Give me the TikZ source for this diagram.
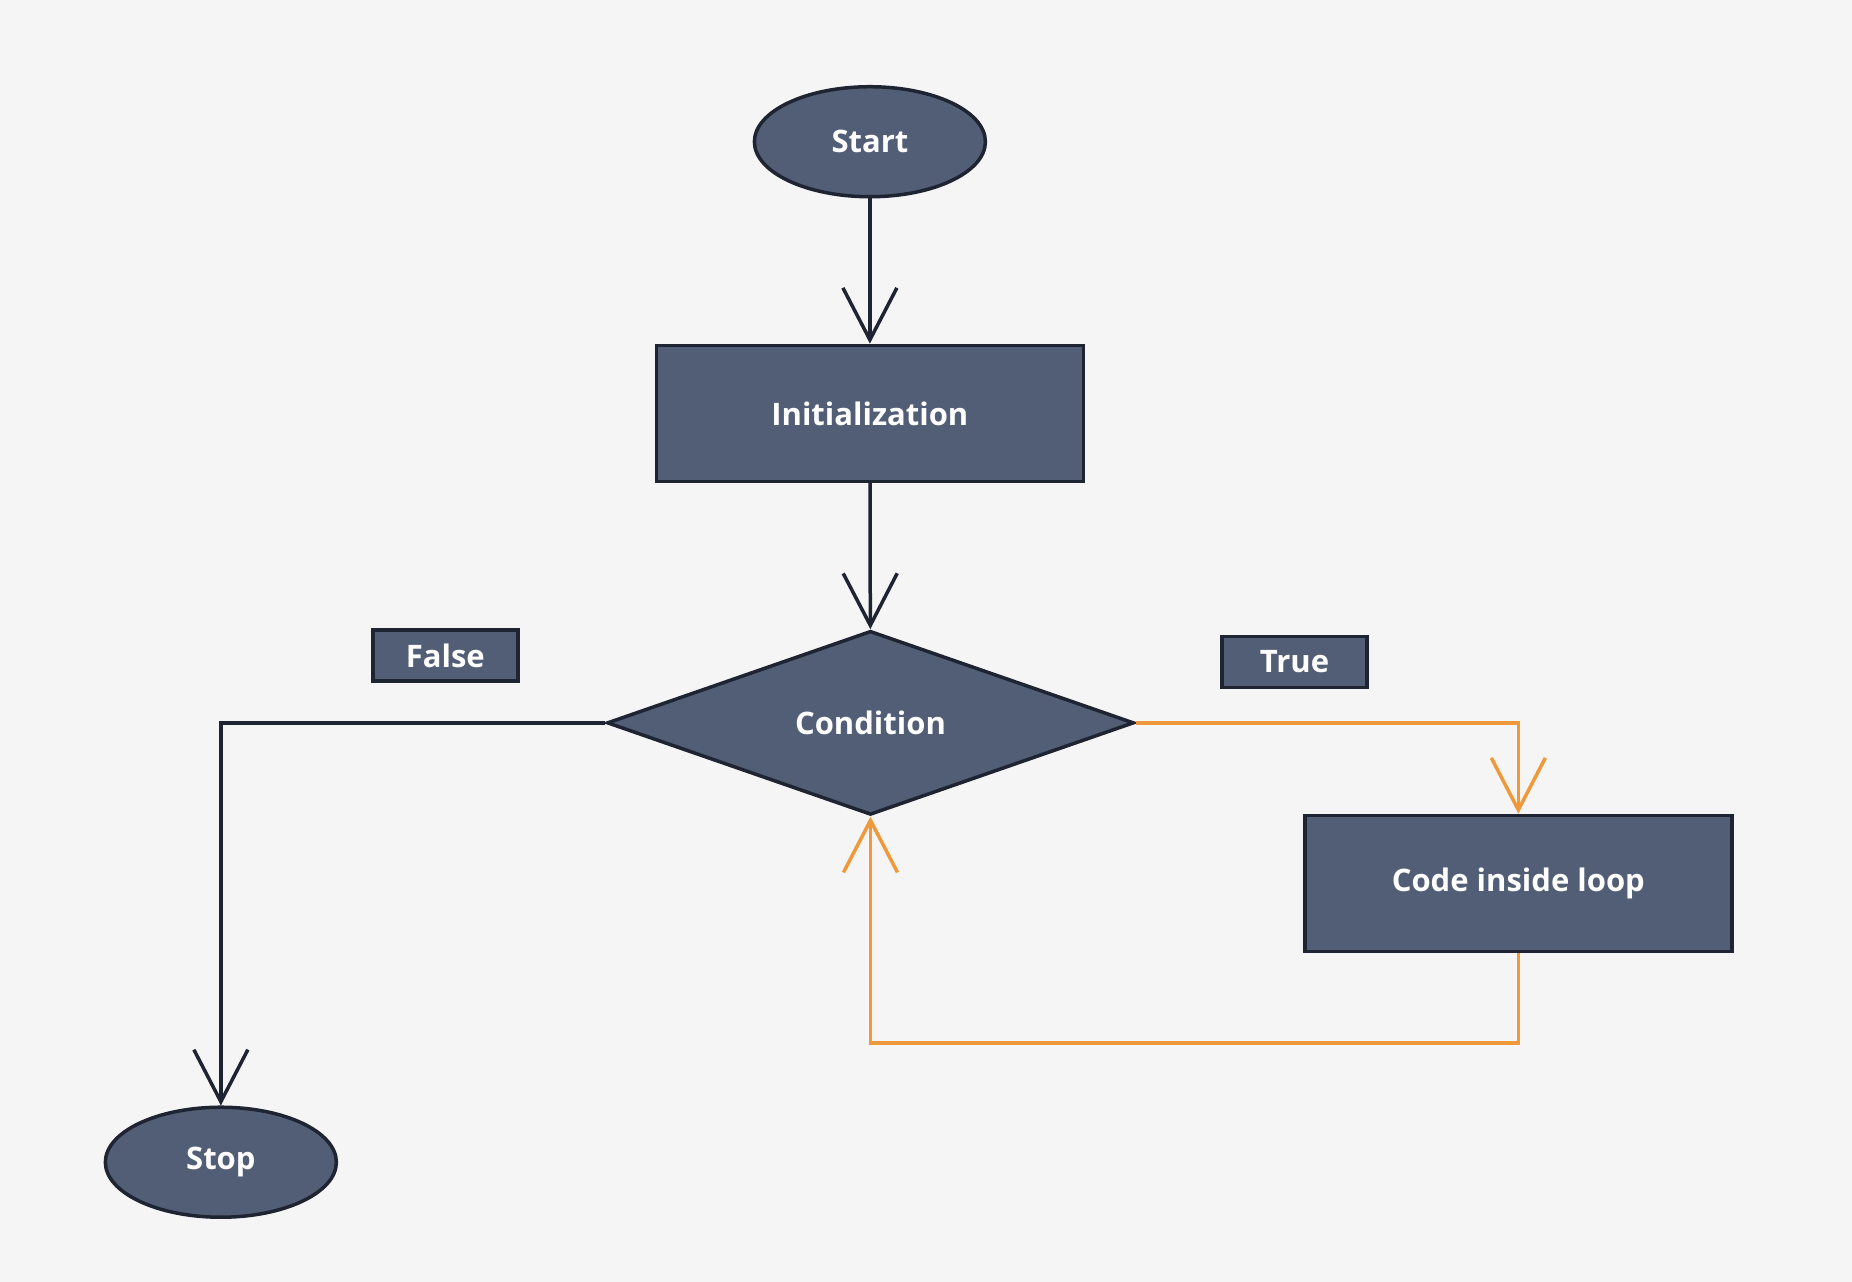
\documentclass[tikz,border=0pt]{standalone}
\usepackage{fontspec}
\setmainfont{Open Sans}
\usetikzlibrary{shapes.geometric,arrows.meta}
\definecolor{bgc}{HTML}{F5F5F5}
\definecolor{nodefill}{HTML}{525E75}
\definecolor{edgec}{HTML}{1F2433}
\definecolor{loopc}{HTML}{F0993A}
\tikzset{
  base/.style={draw=edgec, line width=3.5pt, fill=nodefill, text=white, font=\fontsize{31}{35}\selectfont\bfseries, inner sep=0pt},
  term/.style={base, ellipse, minimum width=231pt, minimum height=110pt},
  proc/.style={base, rectangle, minimum width=427pt, minimum height=136pt},
  decis/.style={base, diamond, minimum width=527pt, minimum height=184pt, aspect=2.86},
  tag/.style={base, rectangle, minimum width=145pt, minimum height=51pt},
  conn/.style={draw=edgec, line width=3.5pt, -{Straight Barb[length=52pt,width=54pt,line width=3.5pt]}},
  loopconn/.style={draw=loopc, line width=3.5pt, -{Straight Barb[length=52pt,width=54pt,line width=3.5pt]}},
}
\begin{document}
\begin{tikzpicture}[x=1.1811pt,y=-1.1811pt]
\fill[bgc] (0,0) rectangle (1568,1085.4);
\useasboundingbox (0,0) rectangle (1568,1085.4);
\node[term] (start) at (736.5,120) {Start};
\node[proc] (init) at (736.5,350) {Initialization};
\node[decis] (cond) at (737,612) {Condition};
\node[tag] (false) at (377,555) {False};
\node[tag] (true) at (1096,560.5) {True};
\node[proc] (code) at (1285.5,748) {Code inside loop};
\node[term] (stop) at (187,984) {Stop};
\coordinate (loopbot) at (1285.5,883);
\draw[conn] (start) -- (init);
\draw[conn] (init) -- (cond);
\draw[conn] (cond.west) -| (stop.north);
\draw[loopconn] (cond.east) -| (code.north);
\draw[loopconn] (code.south) -- (loopbot) -| (cond.south);
\end{tikzpicture}
\end{document}
